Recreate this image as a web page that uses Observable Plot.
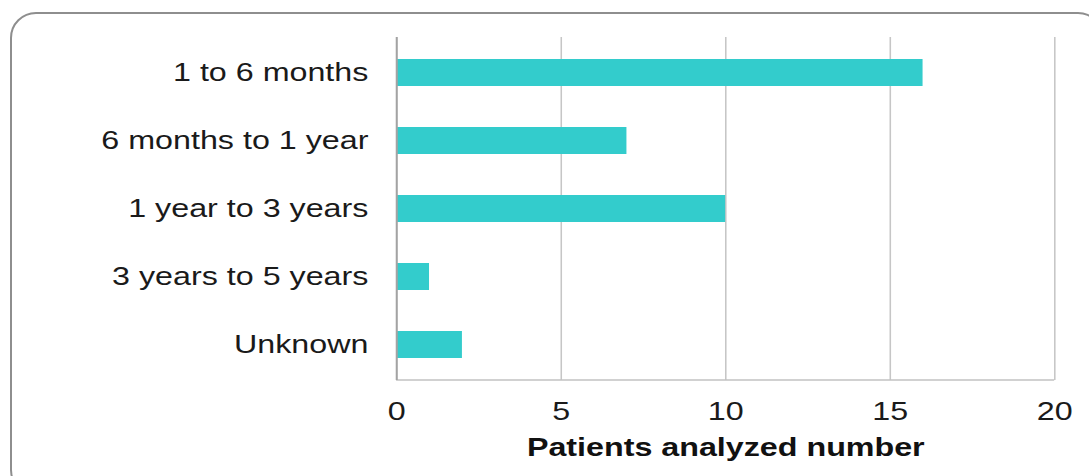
<!DOCTYPE html>
<html>
<head>
<meta charset="utf-8">
<script src="https://cdn.jsdelivr.net/npm/d3@7"></script>
<script src="https://cdn.jsdelivr.net/npm/@observablehq/plot@0.6"></script>
<style>
  html, body { margin: 0; padding: 0; background: #fff; overflow: hidden; width: 1089px; height: 476px; }
  #frame { position: absolute; left: 10px; top: 12px; width: 1090px; height: 480px; border: 2px solid #8e8e8e; border-radius: 26px; pointer-events: none; z-index: 2; }
  #chart { position: absolute; left: 0; top: 0; z-index: 1; }
</style>
</head>
<body>
<div id="chart"></div>
<div id="frame"></div>
<script>
const categories = ["1 to 6 months", "6 months to 1 year", "1 year to 3 years", "3 years to 5 years", "Unknown"];
const patients = [16, 7, 10, 1, 2];
const xTicks = [0, 5, 10, 15, 20];
const axisTitle = "Patients analyzed number";

const data = categories.map((c, i) => ({category: c, value: patients[i]}));

const W = 844; // logical width, stretched horizontally to 1089

const bottomLine = (index, scales, values, dims) => {
  const y = dims.height - dims.marginBottom;
  return d3.create("svg:line")
    .attr("x1", scales.x(xTicks[0])).attr("x2", scales.x(xTicks[xTicks.length - 1]))
    .attr("y1", y).attr("y2", y)
    .attr("stroke", "#c2c2c2").attr("stroke-width", 1.6)
    .node();
};

const svg = Plot.plot({
  width: W,
  height: 476,
  marginLeft: 307,
  marginRight: 27,
  marginTop: 37,
  marginBottom: 96,
  style: {fontFamily: "'Liberation Sans', Arial, sans-serif", background: "transparent", color: "#1a1a1a"},
  x: {domain: [xTicks[0], xTicks[xTicks.length - 1]]},
  y: {domain: categories, paddingInner: 0.6, paddingOuter: 0.3},
  marks: [
    Plot.ruleX(xTicks.slice(1), {stroke: "#c6c6c6", strokeWidth: 1.2}),
    bottomLine,
    Plot.barX(data, {x: "value", y: "category", fill: "#33cccc"}),
    Plot.ruleX([0], {stroke: "#a3a3a3", strokeWidth: 1.6}),
    Plot.axisX({ticks: xTicks, tickSize: 0, tickPadding: 22, fontSize: 25, label: null, color: "#1a1a1a"}),
    Plot.axisY({tickSize: 0, tickPadding: 22, fontSize: 25, label: null, color: "#1a1a1a"}),
    Plot.text([axisTitle], {text: d => d, frameAnchor: "bottom", lineAnchor: "middle", dy: 67, fontSize: 25, fontWeight: "bold", fill: "#111"})
  ]
});

svg.setAttribute("preserveAspectRatio", "none");
svg.setAttribute("width", 1089);
svg.setAttribute("height", 476);
svg.style.width = "1089px";
svg.style.height = "476px";
svg.style.maxWidth = "none";
document.getElementById("chart").appendChild(svg);
</script>
</body>
</html>
